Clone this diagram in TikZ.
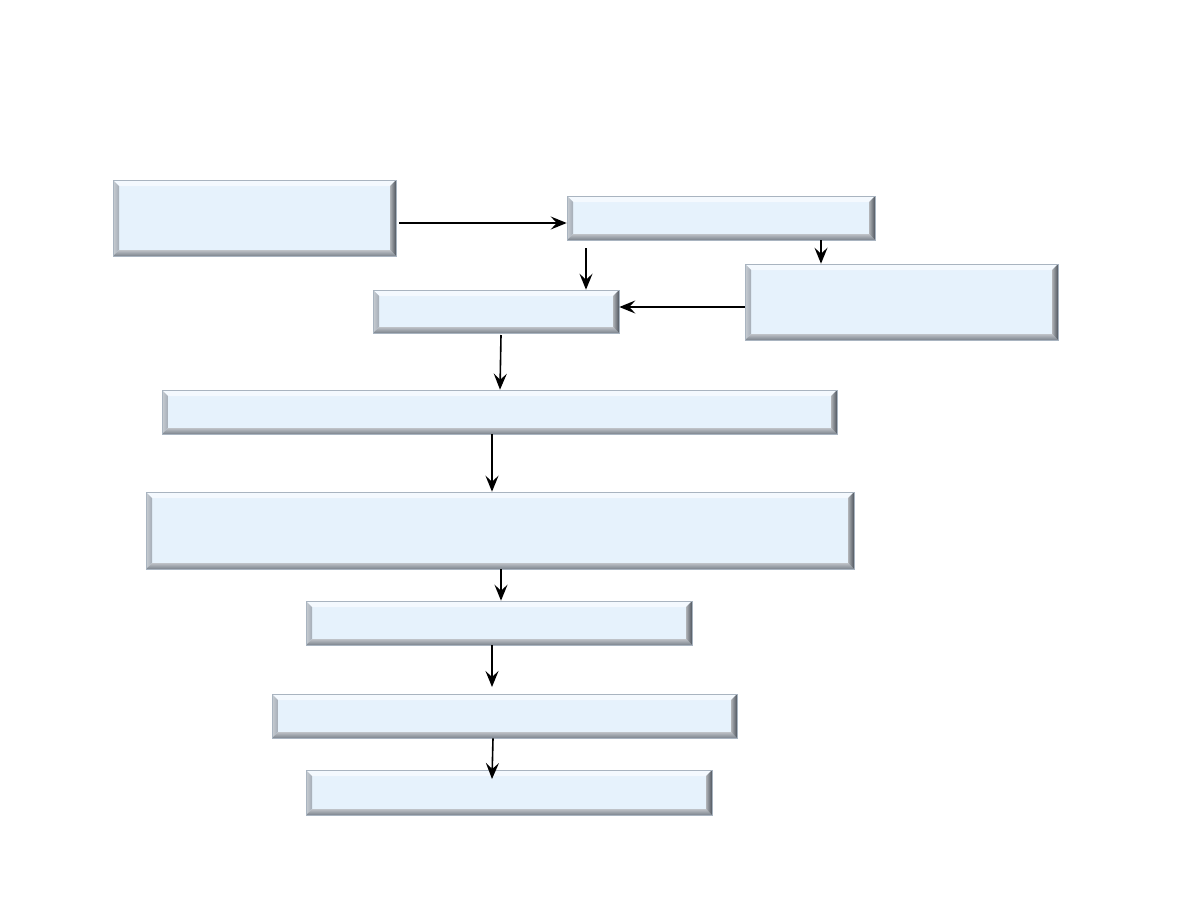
\documentclass[tikz,border=0pt]{standalone}
\usetikzlibrary{arrows.meta,calc}
\definecolor{boxfill}{HTML}{E6F2FC}
\definecolor{bevtop}{HTML}{F4F9FE}
\definecolor{bevleft}{HTML}{A4ACB6}
\definecolor{bevbot}{HTML}{7C848E}
\definecolor{bevright}{HTML}{4E555E}
\definecolor{bevedge}{HTML}{A9B4C0}
\tikzset{
  bevelbox/.style={rectangle, inner sep=0pt, fill=boxfill, draw=bevedge, line width=0.6pt,
    path picture={
      \fill[bevtop] let \p1=(path picture bounding box.south west), \p2=(path picture bounding box.north east) in
        (\x1,\y2) -- (\x2,\y2) -- (\x2-6pt,\y2-6pt) -- (\x1+6pt,\y2-6pt) -- cycle;
      \shade[left color=bevleft!60!white, right color=bevleft] let \p1=(path picture bounding box.south west), \p2=(path picture bounding box.north east) in
        (\x1,\y2) -- (\x1+6pt,\y2-6pt) -- (\x1+6pt,\y1+6pt) -- (\x1,\y1) -- cycle;
      \shade[top color=bevbot!50!white, bottom color=bevbot] let \p1=(path picture bounding box.south west), \p2=(path picture bounding box.north east) in
        (\x1,\y1) -- (\x1+6pt,\y1+6pt) -- (\x2-6pt,\y1+6pt) -- (\x2,\y1) -- cycle;
      \shade[left color=bevright!45!white, right color=bevright] let \p1=(path picture bounding box.south west), \p2=(path picture bounding box.north east) in
        (\x2,\y2) -- (\x2-6pt,\y2-6pt) -- (\x2-6pt,\y1+6pt) -- (\x2,\y1) -- cycle;
    }},
  conn/.style={line width=1.6pt, -{Stealth[length=16pt,width=13pt,inset=6pt]}}
}
\newcommand{\bbox}[5]{% name, x1, y1, x2, y2
  \node[bevelbox, minimum width={(#4-#2)*1pt}, minimum height={(#5-#3)*1pt}]
    (#1) at ({(#2+#4)/2},{(#3+#5)/2}) {};}
\begin{document}
\begin{tikzpicture}[x=1pt,y=-1pt]
\useasboundingbox (0,0) rectangle (1188,918);
\fill[white] (0,0) rectangle (1188,918);
\bbox{A}{113}{180}{396}{256}
\bbox{B}{567}{196}{875}{240}
\bbox{C}{745}{264}{1058}{340}
\bbox{D}{373}{290}{619}{333}
\bbox{E}{162}{390}{837}{434}
\bbox{F}{146}{492}{854}{569}
\bbox{G}{306}{601}{692}{645}
\bbox{H}{272}{694}{737}{738}
\bbox{I}{306}{770}{712}{815}
\coordinate (a1) at (399,223);
\coordinate (b1) at (586,248);
\coordinate (d1) at (501,335);
\coordinate (g1) at (492,687);
\coordinate (i1) at (492,779);
\draw[conn] (a1) -- (a1 -| B.west);
\draw[conn] (b1) -- (b1 |- D.north);
\draw[conn] (B.south -| 821,0) -- (C.north -| 821,0);
\draw[conn] (C.west |- 0,307) -- (D.east |- 0,307);
\draw[conn] (d1) -- (500,390 |- E.north);
\draw[conn] (E.south -| 492,0) -- (F.north -| 492,0);
\draw[conn] (F.south -| 501,0) -- (G.north -| 501,0);
\draw[conn] (G.south -| 492,0) -- (g1);
\draw[conn] (H.south -| 493,0) -- (i1);
\end{tikzpicture}
\end{document}
